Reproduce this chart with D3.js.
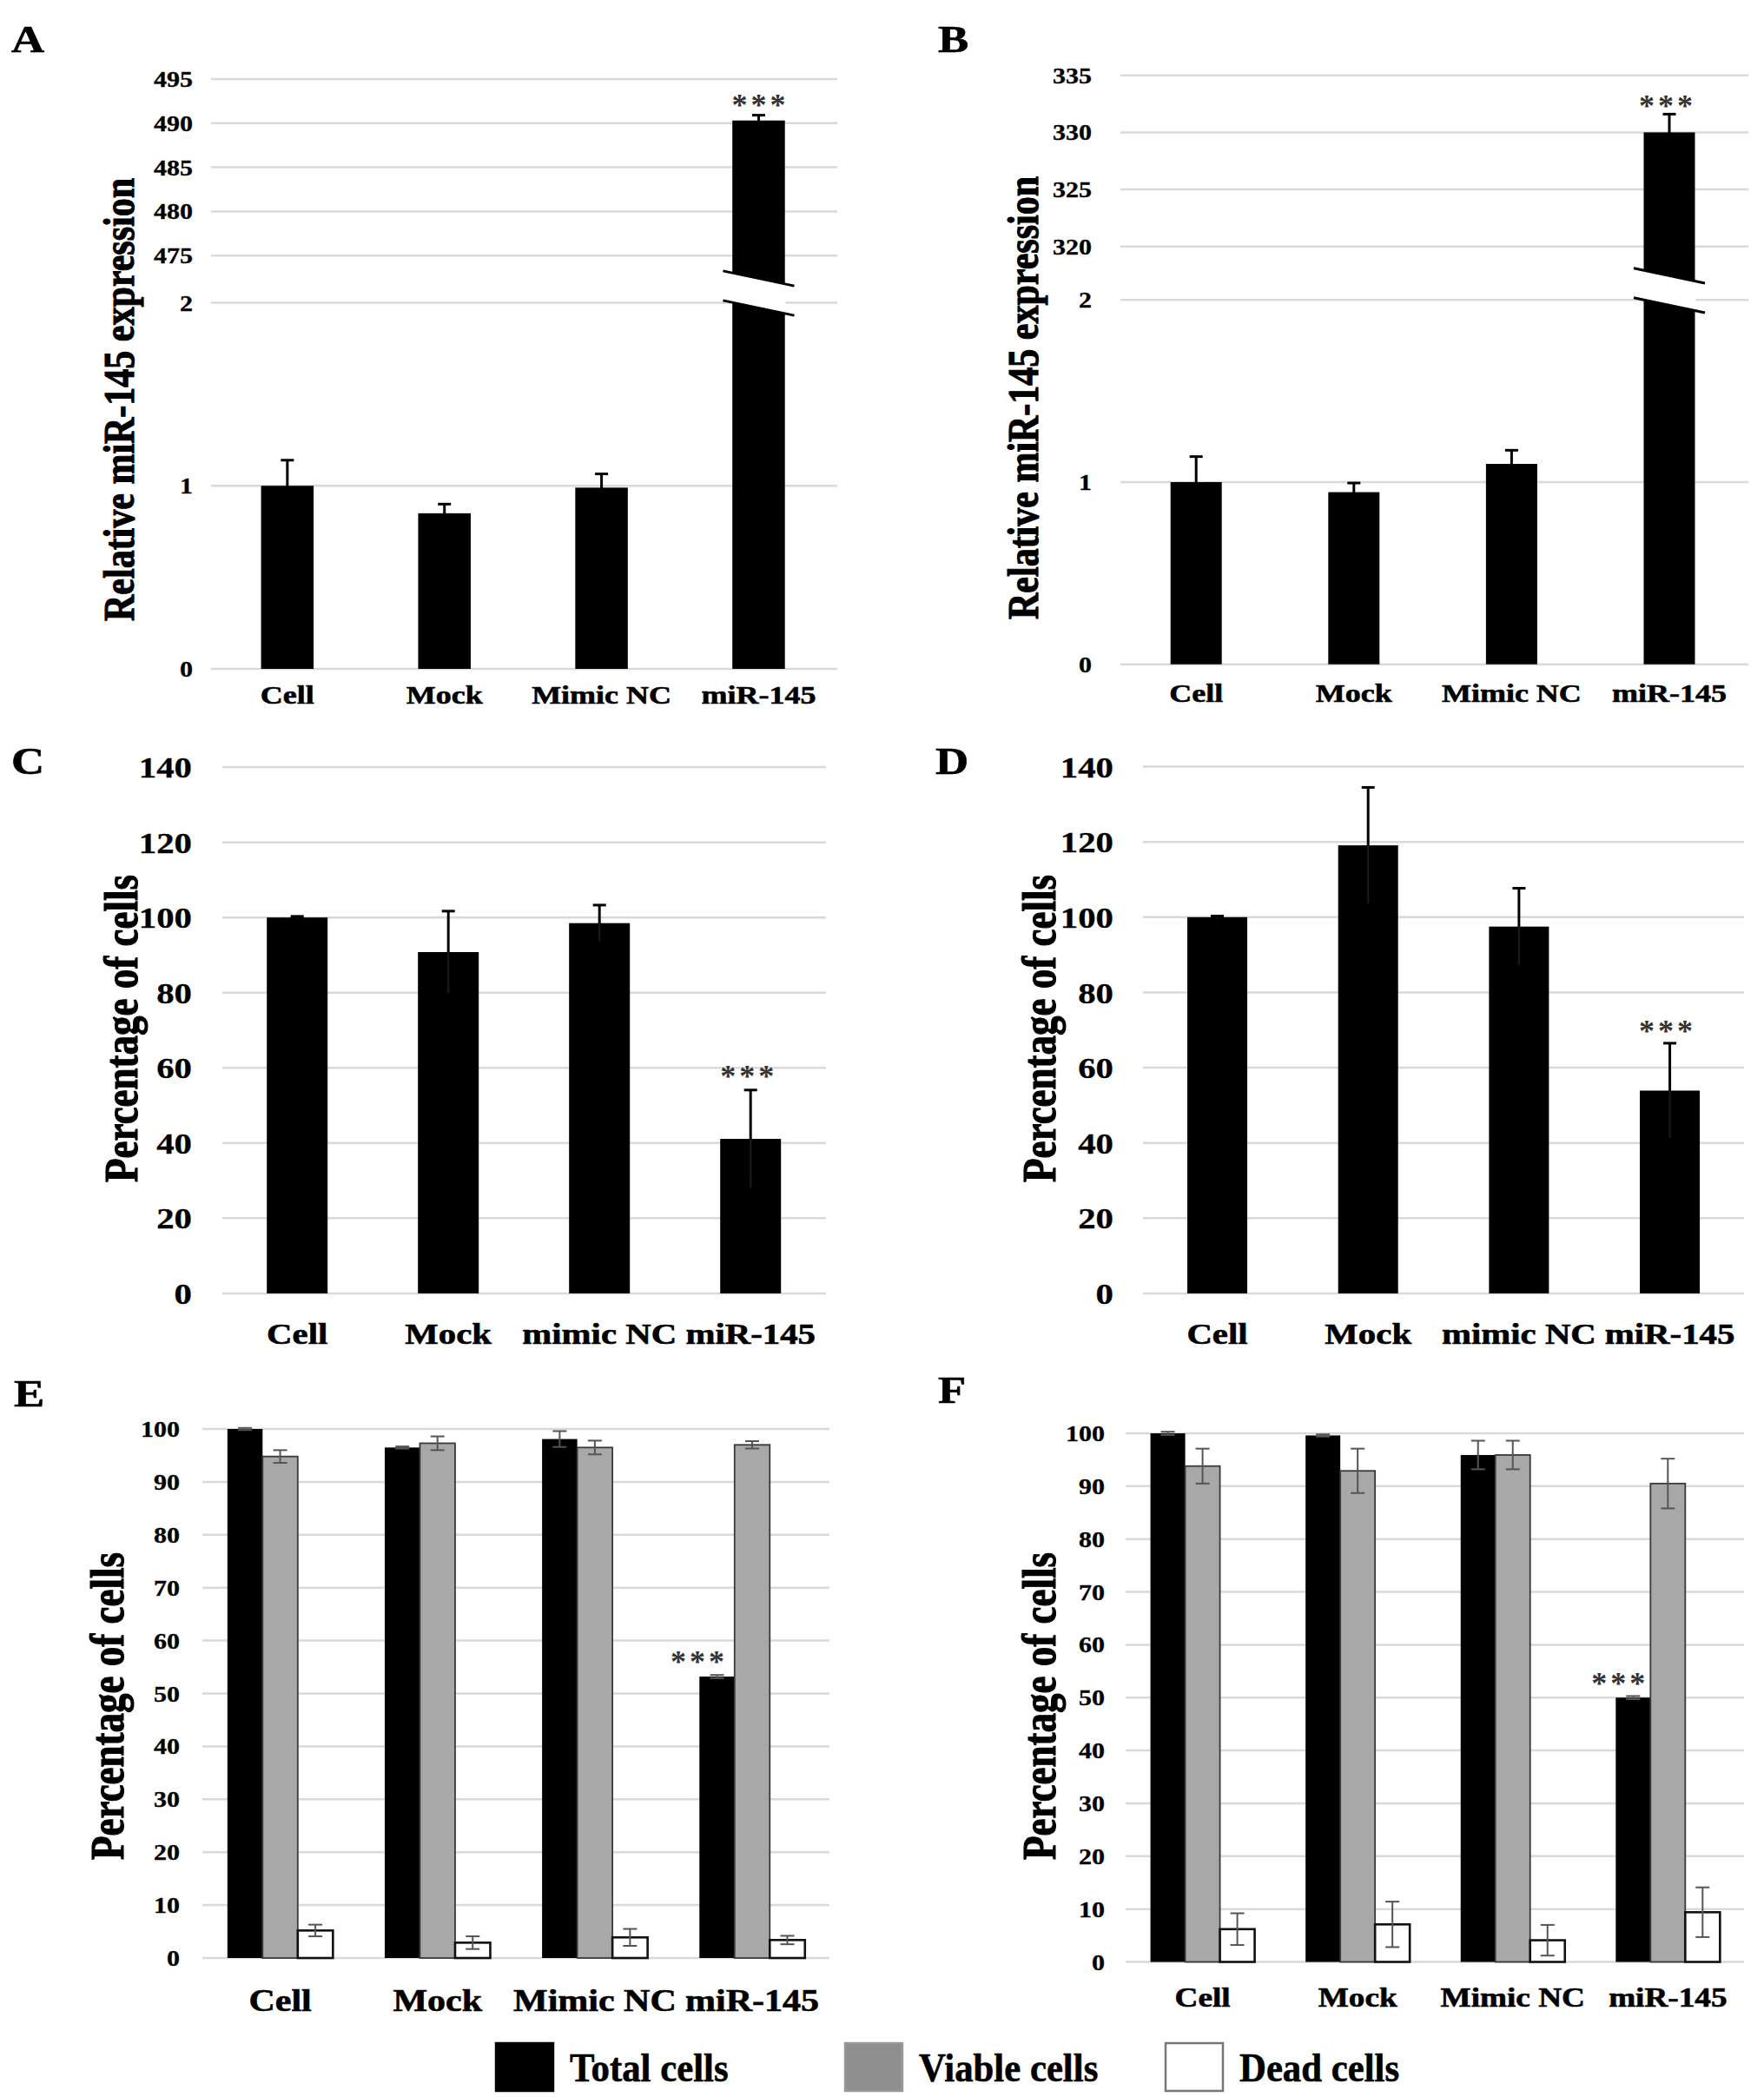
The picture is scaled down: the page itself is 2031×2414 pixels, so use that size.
<!DOCTYPE html>
<html><head><meta charset="utf-8">
<script src="https://cdn.jsdelivr.net/npm/d3@7"></script>
<style>html,body{margin:0;padding:0;background:#fff;} svg{display:block}</style>
</head><body>
<svg id="chart" width="2031" height="2414"></svg>
<script>
// ---------------- DATA ----------------
const catsAB = ["Cell", "Mock", "Mimic NC", "miR-145"];
const catsCD = ["Cell", "Mock", "mimic NC", "miR-145"];
const catsEF = ["Cell", "Mock", "Mimic NC", "miR-145"];

const exprA    = [1.00, 0.85, 0.99, 490.3];
const exprAErr = [0.14, 0.05, 0.075, 0.6];
const exprB    = [1.00, 0.945, 1.10, 330.0];
const exprBErr = [0.14, 0.05, 0.075, 1.6];
const ticksLowAB = [0, 1, 2];
const ticksUpA = [475, 480, 485, 490, 495];
const ticksUpB = [320, 325, 330, 335];

const pctC    = [100, 90.8, 98.5, 41.1];
const pctCErr = [0.3, 10.9, 4.8, 13.0];
const pctD    = [100, 119.1, 97.5, 53.9];
const pctDErr = [0.3, 15.4, 10.2, 12.6];
const ticksCD = [0, 20, 40, 60, 80, 100, 120, 140];

const seriesEF = ["Total cells", "Viable cells", "Dead cells"];
const totalE     = [100, 96.5, 98.1, 53.2];
const totalEErr  = [0.2, 0.2, 1.5, 0.3];
const viableE    = [94.8, 97.3, 96.5, 97.0];
const viableEErr = [1.2, 1.3, 1.3, 0.7];
const deadE      = [5.2, 2.9, 3.9, 3.4];
const deadEErr   = [1.1, 1.2, 1.6, 0.8];
const totalF     = [100, 99.6, 95.9, 50.0];
const totalFErr  = [0.3, 0.2, 2.7, 0.3];
const viableF    = [93.8, 92.9, 95.9, 90.5];
const viableFErr = [3.3, 4.2, 2.7, 4.7];
const deadF      = [6.2, 7.1, 4.1, 9.4];
const deadFErr   = [3.0, 4.3, 2.9, 4.7];
const ticksEF = [0, 10, 20, 30, 40, 50, 60, 70, 80, 90, 100];

const sigLabel = "***";
const sigIndexAD = 3;   // miR-145
const sigSeriesEF = 0;  // total cells of miR-145

// ---------------- STYLE ----------------
const FONT = "'Liberation Serif','Times New Roman',Times,serif";
const SX = 1.2;
const GRID = "#d9d9d9";
const seriesFill = ["#000000", "#a8a8a8", "#ffffff"];
const seriesStroke = ["#000000", "#3a3a3a", "#111111"];
const legendFill = ["#000000", "#8e8e8e", "#ffffff"];
const legendStroke = ["#000000", "#999999", "#777777"];

const svg = d3.select("#chart");

function txt(g, x, y, s, o) {
  let tf = `translate(${x},${y}) scale(${o.sx || 1},1)`;
  if (o.rot) tf += ` rotate(${o.rot})`;
  const t = g.append("g").attr("transform", tf).append("text")
    .attr("text-anchor", o.anchor || "start")
    .attr("font-family", o.family || FONT)
    .attr("font-weight", o.weight || "bold")
    .attr("font-size", o.size)
    .attr("fill", o.fill || "#000")
    .attr("dy", o.dy || 0)
    .text(s);
  if (o.ls) t.attr("letter-spacing", o.ls);
  if (o.heavy) t.attr("stroke", o.fill || "#000").attr("stroke-width", o.heavy);
  return t;
}

function star(g, cx, cy) {
  txt(g, cx, cy + 17.5, sigLabel, {size: 36, anchor: "middle", fill: "#333", ls: 4, sx: 1});
}

function styleAxisText(ax, size, heavy) {
  ax.select(".domain").remove();
  ax.selectAll("text")
    .attr("font-family", FONT).attr("font-weight", "bold")
    .attr("font-size", size).attr("fill", "#000")
    .attr("stroke", "#000").attr("stroke-width", heavy || 0.3)
    .attr("transform", `scale(${SX},1)`);
}

function frame(g, cfg, yScales, tickSets) {
  yScales.forEach((ys, i) => {
    g.append("g").selectAll("line").data(tickSets[i]).join("line")
      .attr("x1", cfg.gridX[0]).attr("x2", cfg.gridX[1])
      .attr("y1", d => ys(d)).attr("y2", d => ys(d))
      .attr("stroke", GRID).attr("stroke-width", 2.5);
    const ax = g.append("g").attr("transform", `translate(${cfg.tickX},0)`)
      .call(d3.axisLeft(ys).tickValues(tickSets[i]).tickSize(0).tickPadding(0).tickFormat(d3.format("d")));
    styleAxisText(ax, cfg.tickSize);
    ax.selectAll("text").attr("x", 0).attr("dy", "0.34em");
  });
}

function catAxis(g, x, cfg) {
  const ax = g.append("g").attr("transform", `translate(0,${cfg.catY})`)
    .call(d3.axisBottom(x).tickSize(0).tickPadding(0));
  styleAxisText(ax, cfg.catSize, 0.6);
  ax.selectAll("text").attr("y", 0).attr("dy", 0);
}

function titles(g, cfg) {
  txt(g, cfg.titleX, cfg.titleY, cfg.title, {size: cfg.titleSize, anchor: "middle", rot: -90, sx: SX, dy: "0.33em", heavy: 0.9});
  txt(g, cfg.letterX, cfg.letterY, cfg.letter, {size: 44, sx: SX, heavy: 0.6});
}

function errBar(g, xc, y1, y2, o) {
  g.append("line").attr("x1", xc).attr("x2", xc).attr("y1", y1).attr("y2", y2)
    .attr("stroke", o.color).attr("stroke-width", o.w);
  [y1, y2].forEach(yy => g.append("line").attr("x1", xc - o.cap).attr("x2", xc + o.cap)
    .attr("y1", yy).attr("y2", yy).attr("stroke", o.color).attr("stroke-width", o.w));
}

// ---------- broken-axis panels (A, B) ----------
function brokenPanel(cfg) {
  const g = svg.append("g");
  const x = d3.scaleBand().domain(cfg.cats).range(cfg.xRange);
  const yL = d3.scaleLinear().domain(cfg.yLowDom).range(cfg.yLowRange);
  const yU = d3.scaleLinear().domain(cfg.yUpDom).range(cfg.yUpRange);
  frame(g, cfg, [yL, yU], [cfg.ticksLow, cfg.ticksUp]);
  const ys = v => v > cfg.yLowDom[1] ? yU : yL;
  const bars = cfg.cats.map((c, i) => ({c, v: cfg.vals[i], e: cfg.errs[i]}));
  bars.forEach(d => {
    const xc = x(d.c) + x.bandwidth() / 2;
    const s = ys(d.v);
    errBar(g, xc, s(d.v - d.e), s(d.v + d.e), {color: "#000", w: 3, cap: 7.5});
  });
  g.append("g").selectAll("rect").data(bars).join("rect")
    .attr("x", d => x(d.c) + x.bandwidth() / 2 - cfg.bw / 2)
    .attr("width", cfg.bw)
    .attr("y", d => ys(d.v)(d.v))
    .attr("height", d => yL(0) - ys(d.v)(d.v))
    .attr("fill", "#000");
  bars.filter(d => d.v > cfg.yLowDom[1]).forEach(d => {
    const xc = x(d.c) + x.bandwidth() / 2;
    const yb = yL(cfg.yLowDom[1]);
    const c1 = yb - 28, c2 = yb + 6, hw = 41, sl = 0.21;
    const h = cfg.bw / 2 + 1;
    g.append("polygon")
      .attr("points", [[xc - h, c1 - h * sl], [xc + h, c1 + h * sl], [xc + h, c2 + h * sl], [xc - h, c2 - h * sl]].map(p => p.join(",")).join(" "))
      .attr("fill", "#fff");
    [c1, c2].forEach(cy => g.append("line")
      .attr("x1", xc - hw).attr("y1", cy - hw * sl).attr("x2", xc + hw).attr("y2", cy + hw * sl)
      .attr("stroke", "#000").attr("stroke-width", 3));
  });
  const sd = bars[sigIndexAD];
  star(g, x(sd.c) + x.bandwidth() / 2 + cfg.starDx, ys(sd.v)(sd.v + sd.e) - cfg.starGap);
  catAxis(g, x, cfg);
  titles(g, cfg);
}

// ---------- simple panels (C, D) ----------
function simplePanel(cfg) {
  const g = svg.append("g");
  const x = d3.scaleBand().domain(cfg.cats).range(cfg.xRange);
  const y = d3.scaleLinear().domain(cfg.yDom).range(cfg.yRange);
  frame(g, cfg, [y], [cfg.ticks]);
  const bars = cfg.cats.map((c, i) => ({c, v: cfg.vals[i], e: cfg.errs[i]}));
  bars.forEach(d => {
    const xc = x(d.c) + x.bandwidth() / 2;
    errBar(g, xc, y(d.v - d.e), y(d.v + d.e), {color: "#000", w: 3, cap: 7.5});
  });
  g.append("g").selectAll("rect").data(bars).join("rect")
    .attr("x", d => x(d.c) + x.bandwidth() / 2 - cfg.bw / 2)
    .attr("width", cfg.bw)
    .attr("y", d => y(d.v)).attr("height", d => y(0) - y(d.v))
    .attr("fill", "#000");
  bars.forEach(d => {
    const xc = x(d.c) + x.bandwidth() / 2;
    g.append("line").attr("x1", xc).attr("x2", xc).attr("y1", y(d.v)).attr("y2", y(d.v - d.e))
      .attr("stroke", "#1c1c1c").attr("stroke-width", 2);
  });
  const sd = bars[sigIndexAD];
  star(g, x(sd.c) + x.bandwidth() / 2 + cfg.starDx, y(sd.v + sd.e) - cfg.starGap);
  catAxis(g, x, cfg);
  titles(g, cfg);
}

// ---------- grouped panels (E, F) ----------
function groupedPanel(cfg) {
  const g = svg.append("g");
  const x = d3.scaleBand().domain(cfg.cats).range(cfg.xRange);
  const xs = d3.scaleBand().domain(seriesEF).range([-1.5 * cfg.bw, 1.5 * cfg.bw]);
  const y = d3.scaleLinear().domain(cfg.yDom).range(cfg.yRange);
  frame(g, cfg, [y], [cfg.ticks]);
  const bars = [];
  cfg.cats.forEach((c, i) => seriesEF.forEach((s, j) => bars.push({c, s, j, v: cfg.series[j][i], e: cfg.serrs[j][i]})));
  const cx = d => x(d.c) + x.bandwidth() / 2;
  g.append("g").selectAll("rect").data(bars).join("rect")
    .attr("x", d => cx(d) + xs(d.s))
    .attr("width", xs.bandwidth())
    .attr("y", d => y(d.v)).attr("height", d => y(0) - y(d.v))
    .attr("fill", d => seriesFill[d.j])
    .attr("stroke", d => seriesStroke[d.j])
    .attr("stroke-width", d => d.j === 0 ? 0 : (d.j === 1 ? 1.8 : 2.6));
  bars.forEach(d => {
    const xc = cx(d) + xs(d.s) + xs.bandwidth() / 2;
    errBar(g, xc, y(d.v - d.e), y(d.v + d.e), {color: "#555", w: 2, cap: 8});
  });
  const sd = bars.find(d => d.c === cfg.cats[sigIndexAD] && d.j === sigSeriesEF);
  star(g, cx(sd) + xs(sd.s) + xs.bandwidth() / 2 + cfg.starDx, y(sd.v + sd.e) - cfg.starGap);
  catAxis(g, x, cfg);
  titles(g, cfg);
}

brokenPanel({cats: catsAB, vals: exprA, errs: exprAErr,
  xRange: [240.4, 963.9], gridX: [243, 964],
  yLowDom: [0, 2], yLowRange: [770, 348.5], yUpDom: [475, 495], yUpRange: [294.3, 90.9],
  ticksLow: ticksLowAB, ticksUp: ticksUpA, tickX: 222, tickSize: 25, bw: 60.5,
  catY: 810, catSize: 30, title: "Relative miR-145 expression", titleX: 137, titleY: 460, titleSize: 42,
  letter: "A", letterX: 13, letterY: 60, starDx: 2, starGap: 17.5});

brokenPanel({cats: catsAB, vals: exprB, errs: exprBErr,
  xRange: [1286.4, 2012.8], gridX: [1290, 2013],
  yLowDom: [0, 2], yLowRange: [764.7, 345.3], yUpDom: [320, 335], yUpRange: [283.8, 86.7],
  ticksLow: ticksLowAB, ticksUp: ticksUpB, tickX: 1257, tickSize: 25, bw: 59,
  catY: 808, catSize: 30, title: "Relative miR-145 expression", titleX: 1178, titleY: 458, titleSize: 42,
  letter: "B", letterX: 1080, letterY: 60, starDx: -2, starGap: 14.7});

simplePanel({cats: catsCD, vals: pctC, errs: pctCErr,
  xRange: [255.2, 951.2], gridX: [256, 951], yDom: [0, 140], yRange: [1488.9, 883.1],
  ticks: ticksCD, tickX: 221, tickSize: 34, bw: 70,
  catY: 1547, catSize: 34, title: "Percentage of cells", titleX: 140, titleY: 1184, titleSize: 45,
  letter: "C", letterX: 13, letterY: 891, starDx: -2, starGap: 21});

simplePanel({cats: catsCD, vals: pctD, errs: pctDErr,
  xRange: [1314.7, 2009.4], gridX: [1316, 2008], yDom: [0, 140], yRange: [1488.9, 882.6],
  ticks: ticksCD, tickX: 1282, tickSize: 34, bw: 69,
  catY: 1547, catSize: 34, title: "Percentage of cells", titleX: 1197, titleY: 1184, titleSize: 45,
  letter: "D", letterX: 1077, letterY: 891, starDx: -2.5, starGap: 19.5});

groupedPanel({cats: catsEF, series: [totalE, viableE, deadE], serrs: [totalEErr, viableEErr, deadEErr],
  xRange: [232, 956.6], gridX: [233, 955], yDom: [0, 100], yRange: [2254, 1645],
  ticks: ticksEF, tickX: 207, tickSize: 25, bw: 40.5,
  catY: 2315, catSize: 35, title: "Percentage of cells", titleX: 124, titleY: 1964, titleSize: 45,
  letter: "E", letterX: 16, letterY: 1619, starDx: -20.5, starGap: 21});

groupedPanel({cats: catsEF, series: [totalF, viableF, deadF], serrs: [totalFErr, viableFErr, deadFErr],
  xRange: [1295.3, 2009.6], gridX: [1296, 2008], yDom: [0, 100], yRange: [2258.5, 1650],
  ticks: ticksEF, tickX: 1272, tickSize: 25, bw: 40,
  catY: 2310, catSize: 31, title: "Percentage of cells", titleX: 1197, titleY: 1964, titleSize: 45,
  letter: "F", letterX: 1080, letterY: 1615, starDx: -15, starGap: 20});

// ---------- legend ----------
const legendX = d3.scaleOrdinal().domain(seriesEF).range([571, 973, 1342]);
const lg = svg.append("g");
seriesEF.forEach((s, j) => {
  lg.append("rect").attr("x", legendX(s)).attr("y", 2352).attr("width", 66).attr("height", 55)
    .attr("fill", legendFill[j]).attr("stroke", legendStroke[j]).attr("stroke-width", 2.5);
  txt(lg, legendX(s) + 85, 2396, s, {size: 46, sx: 0.93, heavy: 0.6});
});
</script>
</body></html>
